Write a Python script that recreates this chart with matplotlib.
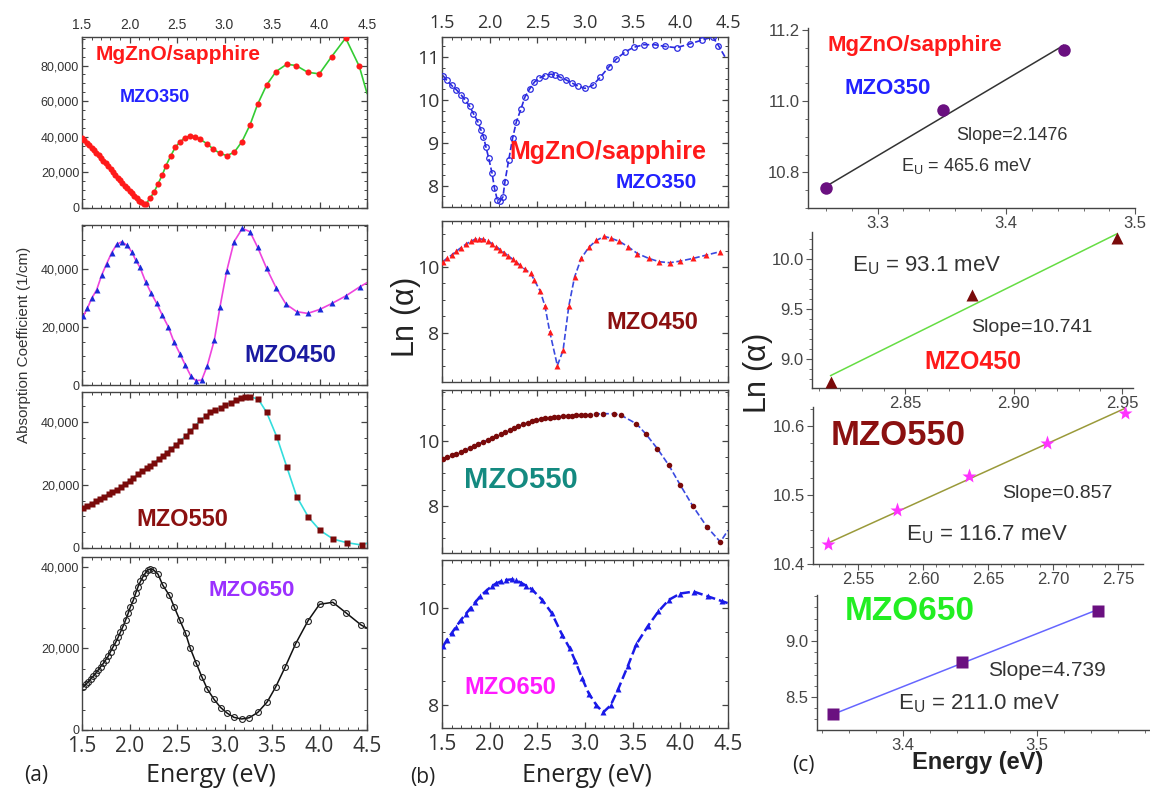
import numpy as np
import matplotlib
matplotlib.use("Agg")
import matplotlib.pyplot as plt
from matplotlib.ticker import FuncFormatter, MultipleLocator, AutoMinorLocator

plt.rcParams['font.family'] = ['Liberation Sans', 'DejaVu Sans']
plt.rcParams['mathtext.default'] = 'regular'

# ---------------- (a) absorption coefficient ----------------
E_350 = [1.50, 1.525, 1.55, 1.575, 1.60, 1.625, 1.65, 1.675, 1.70, 1.725, 1.75, 1.775,
         1.80, 1.825, 1.85, 1.875, 1.90, 1.925, 1.95, 1.975, 2.00, 2.025, 2.05, 2.075,
         2.10, 2.125, 2.15, 2.175, 2.216, 2.258, 2.30, 2.345, 2.384, 2.434, 2.482, 2.535,
         2.584, 2.637, 2.689, 2.742, 2.819, 2.882, 2.953, 3.023, 3.103, 3.184, 3.268,
         3.349, 3.444, 3.542, 3.655, 3.753, 3.876, 3.998, 4.128, 4.275, 4.419]
A_350 = [39300, 37900, 36500, 35100, 33700, 32300, 30900, 29500, 28100, 26600, 25000, 23400,
         21800, 20200, 18600, 17000, 15500, 14000, 12500, 11000, 9600, 8200, 6800, 5400,
         4200, 3200, 2400, 2300, 5600, 8800, 13600, 18500, 23800, 29200, 34100, 37300,
         39500, 40400, 40100, 38600, 36000, 33000, 30700, 29400, 31300, 37300, 46600,
         58300, 69100, 76600, 80700, 80000, 76200, 75300, 85000, 95400, 79500]
E_350_tail = [4.50]
A_350_tail = [64400]

E_450 = [1.514, 1.556, 1.602, 1.654, 1.707, 1.76, 1.812, 1.865, 1.918, 1.97, 2.023, 2.065,
         2.11, 2.17, 2.226, 2.286, 2.345, 2.408, 2.468, 2.532, 2.587, 2.644, 2.70, 2.76,
         2.819, 2.893, 2.953, 3.023, 3.10, 3.187, 3.268, 3.349, 3.444, 3.542, 3.647, 3.76,
         3.876, 4.005, 4.135, 4.275, 4.426]
A_450 = [23800, 26400, 29900, 32800, 37900, 41900, 45600, 48500, 49400, 48300, 46000, 43100,
         40600, 35600, 31800, 28200, 24100, 20100, 14900, 10700, 6900, 3200, 1500, 1700,
         6700, 15500, 27000, 39300, 49400, 54000, 52900, 47500, 40200, 33600, 27900, 25300,
         24700, 26100, 28200, 30700, 33900]
E_450_tail = [4.50]
A_450_tail = [35300]

E_550 = [1.51, 1.55, 1.60, 1.65, 1.69, 1.73, 1.78, 1.82, 1.865, 1.91, 1.95, 2.00, 2.04,
         2.09, 2.13, 2.18, 2.218, 2.26, 2.31, 2.35, 2.394, 2.44, 2.49, 2.535, 2.59, 2.64,
         2.69, 2.746, 2.80, 2.85, 2.905, 2.96, 3.01, 3.065, 3.12, 3.17, 3.22, 3.27, 3.356,
         3.444, 3.55, 3.655, 3.76, 3.883, 4.005, 4.146, 4.286, 4.444]
A_550 = [12800, 13400, 14100, 14900, 15500, 16200, 17200, 17700, 18300, 19400, 20300, 21300, 22300,
         23400, 24300, 25300, 26000, 27100, 28300, 29200, 30300, 31500, 32800, 34000, 35500, 37100,
         38700, 40500, 41800, 43000, 43800, 44500, 45300, 46100, 46900, 47500, 47900, 48000, 47200,
         43000, 35300, 25800, 16300, 9800, 5600, 2800, 1700, 950]
E_550_tail = [4.50]
A_550_tail = [1500]

E_650 = [1.513, 1.54, 1.565, 1.59, 1.618, 1.645, 1.67, 1.696, 1.723, 1.75, 1.776, 1.80, 1.828,
         1.855, 1.88, 1.905, 1.93, 1.96, 1.986, 2.01, 2.04, 2.065, 2.09, 2.115, 2.14, 2.165,
         2.19, 2.22, 2.25, 2.30, 2.35, 2.42, 2.47, 2.53, 2.59, 2.64, 2.70, 2.76, 2.82, 2.89,
         2.96, 3.03, 3.10, 3.18, 3.26, 3.35, 3.45, 3.54, 3.64, 3.75, 3.88, 4.00, 4.14, 4.28, 4.44]
A_650 = [10600, 11200, 11800, 12500, 13200, 13900, 14700, 15500, 16300, 17200, 18100, 19200, 20400,
         21500, 22700, 24000, 25300, 27000, 28600, 30200, 31800, 33500, 35100, 36400, 37500, 38400,
         39200, 39400, 39300, 38200, 35500, 33000, 30200, 26900, 23700, 20000, 16500, 13100, 10000,
         7500, 5500, 4100, 3100, 2700, 3000, 4300, 6900, 10600, 15500, 21200, 26800, 30800, 31300,
         28700, 25700]
E_650_tail = [4.50]
A_650_tail = [25000]

# ---------------- (b) ln(alpha) ----------------
E_b350 = [1.51, 1.55, 1.60, 1.65, 1.70, 1.746, 1.79, 1.83, 1.876, 1.91, 1.935, 1.96, 1.99, 2.025,
          2.05, 2.08, 2.11, 2.14, 2.16, 2.20, 2.24, 2.28, 2.33, 2.37, 2.42, 2.47, 2.52, 2.58,
          2.64, 2.69, 2.74, 2.80, 2.86, 2.93, 3.00, 3.08, 3.16, 3.25, 3.33, 3.42, 3.51, 3.62,
          3.73, 3.84, 3.96, 4.10, 4.23, 4.34, 4.40]
L_b350 = [10.57, 10.46, 10.34, 10.24, 10.12, 9.99, 9.85, 9.68, 9.49, 9.29, 9.14, 8.91, 8.64, 8.29,
          7.94, 7.67, 7.64, 7.74, 8.09, 8.60, 9.10, 9.49, 9.80, 10.07, 10.26, 10.42, 10.51, 10.57,
          10.60, 10.59, 10.53, 10.47, 10.40, 10.32, 10.27, 10.34, 10.53, 10.77, 10.96, 11.12, 11.23,
          11.29, 11.29, 11.25, 11.22, 11.31, 11.40, 11.47, 11.27]
E_b350_tail = [4.47]
L_b350_tail = [11.00]

E_b450 = [1.51, 1.55, 1.60, 1.65, 1.70, 1.75, 1.80, 1.845, 1.89, 1.935, 1.98, 2.025, 2.07, 2.11,
          2.15, 2.195, 2.24, 2.28, 2.32, 2.37, 2.43, 2.47, 2.53, 2.58, 2.63, 2.71, 2.77, 2.83,
          2.89, 2.96, 3.04, 3.12, 3.20, 3.27, 3.36, 3.45, 3.55, 3.67, 3.78, 3.89, 4.00, 4.13,
          4.27, 4.42]
L_b450 = [10.16, 10.26, 10.36, 10.48, 10.59, 10.69, 10.78, 10.84, 10.86, 10.84, 10.80, 10.71, 10.62, 10.53,
          10.44, 10.34, 10.24, 10.15, 10.05, 9.93, 9.81, 9.59, 9.27, 8.81, 8.03, 7.00, 7.46, 8.81,
          9.69, 10.26, 10.60, 10.81, 10.93, 10.88, 10.78, 10.62, 10.41, 10.26, 10.16, 10.13, 10.18,
          10.26, 10.36, 10.47]

E_b550 = [1.51, 1.55, 1.60, 1.65, 1.70, 1.74, 1.79, 1.84, 1.88, 1.93, 1.98, 2.02, 2.07, 2.12,
          2.16, 2.21, 2.26, 2.30, 2.35, 2.40, 2.44, 2.49, 2.54, 2.58, 2.63, 2.68, 2.72, 2.77,
          2.82, 2.86, 2.91, 2.96, 3.00, 3.05, 3.12, 3.19, 3.30, 3.38, 3.54, 3.64, 3.76, 3.88,
          4.00, 4.13, 4.28, 4.42]
L_b550 = [9.46, 9.50, 9.56, 9.61, 9.67, 9.73, 9.79, 9.85, 9.91, 9.97, 10.03, 10.08, 10.14, 10.21,
          10.27, 10.33, 10.39, 10.45, 10.51, 10.56, 10.60, 10.64, 10.67, 10.70, 10.72, 10.74, 10.75, 10.76,
          10.77, 10.78, 10.79, 10.80, 10.80, 10.81, 10.83, 10.84, 10.84, 10.79, 10.53, 10.21, 9.76, 9.25,
          8.64, 8.00, 7.35, 6.89]
E_b550_tail = [4.50]
L_b550_tail = [7.25]

E_b650 = [1.51, 1.55, 1.60, 1.65, 1.70, 1.75, 1.80, 1.85, 1.90, 1.96, 2.02, 2.07, 2.12, 2.175,
          2.23, 2.28, 2.33, 2.385, 2.44, 2.55, 2.65, 2.76, 2.84, 2.90, 2.97, 3.04, 3.12, 3.19,
          3.27, 3.35, 3.45, 3.54, 3.66, 3.77, 3.88, 4.00, 4.14, 4.29, 4.44]
L_b650 = [9.21, 9.34, 9.48, 9.62, 9.76, 9.88, 10.00, 10.12, 10.24, 10.35, 10.45, 10.51, 10.55, 10.58,
          10.59, 10.57, 10.52, 10.46, 10.39, 10.17, 9.90, 9.45, 9.17, 8.90, 8.55, 8.24, 8.00, 7.85,
          8.00, 8.34, 8.81, 9.26, 9.63, 9.93, 10.17, 10.30, 10.34, 10.24, 10.14]
E_b650_tail = [4.50]
L_b650_tail = [10.10]

# ---------------- (c) Urbach fits ----------------
Ec_350 = [3.260, 3.351, 3.4445]
Lc_350 = [10.755, 10.975, 11.144]
Ec_450 = [2.8156, 2.8807, 2.9477]
Lc_450 = [8.77, 9.64, 10.21]
Ec_550 = [2.527, 2.580, 2.635, 2.695, 2.755]
Lc_550 = [10.429, 10.478, 10.5275, 10.5754, 10.620]
Ec_650 = [3.348, 3.444, 3.5455]
Lc_650 = [8.348, 8.810, 9.270]
slopes = [2.1476, 10.741, 0.857, 4.739]
urbach_meV = [465.6, 93.1, 116.7, 211.0]

W, H = 1150, 794
fig = plt.figure(figsize=(W / 100, H / 100), dpi=100)
fig.patch.set_facecolor('white')


def px_axes(l, t, r, b):
    return fig.add_axes([l / W, 1 - b / H, (r - l) / W, (b - t) / H])


def ptxt(x, y, s, **kw):
    kw.setdefault('ha', 'center')
    kw.setdefault('va', 'center')
    return fig.text(x / W, 1 - y / H, s, **kw)


GRAY = '#333333'
OPEN = ['Open Sans', 'DejaVu Sans']
comma = FuncFormatter(lambda v, p: '0' if v == 0 else f'{int(v):,}')


def box_style(ax, top_labels=False, bottom_labels=False, ysize=9, xsize=15, topsize=10):
    for s in ax.spines.values():
        s.set_color('#444444')
        s.set_linewidth(1.0)
    ax.set_xlim(1.5, 4.5)
    ax.xaxis.set_major_locator(MultipleLocator(0.5))
    ax.xaxis.set_minor_locator(MultipleLocator(0.1))
    ax.yaxis.set_minor_locator(AutoMinorLocator(4))
    ax.tick_params(which='both', direction='in', top=True, right=True, colors='#444444')
    ax.tick_params(which='major', length=4, width=0.9)
    ax.tick_params(which='minor', length=2, width=0.7)
    ax.tick_params(axis='y', labelsize=ysize, labelcolor=GRAY, pad=2)
    ax.tick_params(axis='x', labelbottom=bottom_labels, labeltop=top_labels,
                   labelcolor=GRAY)
    if bottom_labels:
        ax.tick_params(axis='x', labelsize=xsize, pad=4)
        for lab in ax.get_xticklabels():
            lab.set_family(OPEN)
    if top_labels:
        for lab in ax.get_xticklabels():
            lab.set_fontsize(topsize)


# ----- column (a) -----
a1 = px_axes(82, 37, 367, 208)
a1.plot(E_350[27:] + E_350_tail, A_350[27:] + A_350_tail, color='#33cc33', lw=1.2, zorder=2)
a1.plot(E_350, A_350, 'o', color='#ff1a1a', ms=4.4, mec='none', zorder=3)
a1.set_ylim(0, 96000)
a1.yaxis.set_major_locator(MultipleLocator(20000))
a1.yaxis.set_major_formatter(comma)
box_style(a1, top_labels=True)
ptxt(178, 55, 'MgZnO/sapphire', fontsize=15, fontweight='bold', color='#ff1a1a')
ptxt(155, 97, 'MZO350', fontsize=13, fontweight='bold', color='#2222ff')

a2 = px_axes(82, 225, 367, 385)
a2.plot(E_450 + E_450_tail, A_450 + A_450_tail, color='#ee44dd', lw=1.2, zorder=2)
a2.plot(E_450, A_450, '^', color='#1a2ad8', ms=4.5, mec='none', zorder=3)
a2.set_ylim(0, 55200)
a2.yaxis.set_major_locator(MultipleLocator(20000))
a2.yaxis.set_major_formatter(comma)
box_style(a2)
ptxt(290, 355, 'MZO450', fontsize=17, fontweight='bold', color='#1a1aa0')

a3 = px_axes(82, 392, 367, 548)
a3.plot(E_550 + E_550_tail, A_550 + A_550_tail, color='#33dddd', lw=1.2, zorder=2)
a3.plot(E_550, A_550, 's', color='#7a0a0a', ms=3.8, mec='none', zorder=3)
a3.set_ylim(0, 49500)
a3.yaxis.set_major_locator(MultipleLocator(20000))
a3.yaxis.set_major_formatter(comma)
box_style(a3)
ptxt(182, 520, 'MZO550', fontsize=17, fontweight='bold', color='#8b1010')

a4 = px_axes(82, 557, 367, 730)
a4.plot(E_650 + E_650_tail, A_650 + A_650_tail, color='#111111', lw=1.1, zorder=2)
a4.plot(E_650, A_650, 'o', mfc='none', mec='#222222', mew=0.8, ms=4.2, zorder=3)
a4.set_ylim(0, 42400)
a4.yaxis.set_major_locator(MultipleLocator(20000))
a4.yaxis.set_major_formatter(comma)
box_style(a4, bottom_labels=True)
ptxt(252, 590, 'MZO650', fontsize=16, fontweight='bold', color='#9b30ff')

ptxt(24, 345, 'Absorption Coefficient (1/cm)', rotation=90, fontsize=11, color=GRAY)
ptxt(36, 776, '(a)', fontsize=15, color='#222222', family=OPEN)
ptxt(211, 776, 'Energy (eV)', fontsize=18, color='#222222', family=OPEN)


# ----- column (b) -----
def ln_style(ax, ylim, yticks, yminor, top_labels=False, bottom_labels=False):
    ax.set_ylim(*ylim)
    box_style(ax, top_labels=top_labels, bottom_labels=bottom_labels, ysize=14, topsize=13)
    ax.set_yticks(yticks)
    ax.yaxis.set_minor_locator(MultipleLocator(yminor))
    for lab in ax.get_yticklabels():
        lab.set_family(OPEN)
    if top_labels:
        for lab in ax.get_xticklabels():
            lab.set_family(OPEN)


b1 = px_axes(442, 37, 728, 207)
b1.plot(E_b350 + E_b350_tail, L_b350 + L_b350_tail, '--', color='#2a2ae0', lw=1.2, zorder=2)
b1.plot(E_b350, L_b350, 'o', mfc='none', mec='#2a2ae0', mew=0.9, ms=4, zorder=3)
ln_style(b1, (7.5, 11.47), [8, 9, 10, 11], 0.25, top_labels=True)
ptxt(608, 152, 'MgZnO/sapphire', fontsize=18, fontweight='bold', color='#ff1a1a')
ptxt(656, 183, 'MZO350', fontsize=15, fontweight='bold', color='#2222ff')

b2 = px_axes(442, 221, 728, 382)
b2.plot(E_b450, L_b450, '--', color='#3a4ae0', lw=1.2, zorder=2)
b2.plot(E_b450, L_b450, '^', color='#ff1a1a', ms=4.5, mec='none', zorder=3)
ln_style(b2, (6.5, 11.4), [8, 10], 0.5)
ptxt(652, 322, 'MZO450', fontsize=17, fontweight='bold', color='#8b1010')

b3 = px_axes(442, 390, 728, 553)
b3.plot(E_b550 + E_b550_tail, L_b550 + L_b550_tail, '--', color='#3a4ae0', lw=1.2, zorder=2)
b3.plot(E_b550, L_b550, 'o', color='#7a0a0a', ms=4, mec='none', zorder=3)
ln_style(b3, (6.55, 11.57), [8, 10], 0.5)
ptxt(521, 480, 'MZO550', fontsize=21, fontweight='bold', color='#148a80')

b4 = px_axes(442, 560, 728, 728)
b4.plot(E_b650 + E_b650_tail, L_b650 + L_b650_tail, '--', color='#1a1ae8', lw=1.8, zorder=2)
b4.plot(E_b650, L_b650, '^', color='#1a1ae8', ms=4.5, mec='none', zorder=3)
ln_style(b4, (7.53, 10.99), [8, 10], 0.5, bottom_labels=True)
ptxt(510, 688, 'MZO650', fontsize=17, fontweight='bold', color='#ff1aff')

ptxt(406, 318, r'Ln ($\alpha$)', rotation=90, fontsize=22, color='#222222')
ptxt(423, 778, '(b)', fontsize=15, color='#222222', family=OPEN)
ptxt(587, 776, 'Energy (eV)', fontsize=18, color='#222222', family=OPEN)


# ----- column (c) -----
def fit_style(ax, xlim, ylim, xmaj, ymaj, xminor, yminor, xfmt, yfmt='{:.1f}'):
    ax.set_xlim(*xlim)
    ax.set_ylim(*ylim)
    for side in ('top', 'right'):
        ax.spines[side].set_visible(False)
    for side in ('left', 'bottom'):
        ax.spines[side].set_color('#444444')
        ax.spines[side].set_linewidth(1.0)
    ax.xaxis.set_major_locator(MultipleLocator(xmaj))
    ax.yaxis.set_major_locator(MultipleLocator(ymaj))
    ax.xaxis.set_minor_locator(MultipleLocator(xminor))
    ax.yaxis.set_minor_locator(MultipleLocator(yminor))
    ax.xaxis.set_major_formatter(FuncFormatter(lambda v, p: xfmt.format(v)))
    ax.yaxis.set_major_formatter(FuncFormatter(lambda v, p: yfmt.format(v)))
    ax.tick_params(which='both', direction='out', colors='#555555', labelcolor='#444444',
                   labelsize=12)
    ax.tick_params(which='major', length=4, pad=2)
    ax.tick_params(which='minor', length=2)
    ax.patch.set_alpha(0)


def fit_line(ax, xs, ys, slope, color):
    x = np.array(xs)
    y = np.array(ys)
    xm, ym = x.mean(), y.mean()
    xx = np.array([x.min(), x.max()])
    ax.plot(xx, ym + slope * (xx - xm), color=color, lw=1.1, zorder=2)


c1 = px_axes(808, 28, 1135, 208)
fit_line(c1, Ec_350, Lc_350, slopes[0], '#333333')
c1.plot(Ec_350, Lc_350, 'o', color='#6a1080', ms=9, mec='none', zorder=3)
fit_style(c1, (3.246, 3.5), (10.70, 11.206), 0.1, 0.2, 0.02, 0.05, '{:.1f}')
ptxt(915, 46, 'MgZnO/sapphire', fontsize=16, fontweight='bold', color='#ff1a1a')
ptxt(888, 89, 'MZO350', fontsize=16, fontweight='bold', color='#2222ff')
ptxt(1012, 135, f'Slope={slopes[0]}', fontsize=13, color=GRAY)
ptxt(967, 166, f'E$_U$ = {urbach_meV[0]} meV', fontsize=13, color=GRAY)

c2 = px_axes(812, 232, 1133, 388)
fit_line(c2, Ec_450, Lc_450, slopes[1], '#66dd44')
c2.plot(Ec_450, Lc_450, '^', color='#7a0a0a', ms=9, mec='none', zorder=3)
fit_style(c2, (2.807, 2.955), (8.71, 10.27), 0.05, 0.5, 0.01, 0.1, '{:.2f}')
ptxt(927, 266, f'E$_U$ = {urbach_meV[1]} meV', fontsize=16, color=GRAY)
ptxt(1032, 327, f'Slope={slopes[1]}', fontsize=14, color=GRAY)
ptxt(973, 362, 'MZO450', fontsize=18, fontweight='bold', color='#ff1a1a')

c3 = px_axes(813, 407, 1143, 564)
fit_line(c3, Ec_550, Lc_550, slopes[2], '#9a9a3a')
c3.plot(Ec_550, Lc_550, '*', color='#ff33ff', ms=11, mec='none', zorder=3)
fit_style(c3, (2.5154, 2.769), (10.4, 10.628), 0.05, 0.1, 0.01, 0.025, '{:.2f}')
ptxt(898, 435, 'MZO550', fontsize=25, fontweight='bold', color='#8b1010')
ptxt(1057, 493, f'Slope={slopes[2]}', fontsize=14, color=GRAY)
ptxt(987, 535, f'E$_U$ = {urbach_meV[2]} meV', fontsize=16, color=GRAY)

c4 = px_axes(817, 595, 1150, 730)
fit_line(c4, Ec_650, Lc_650, slopes[3], '#6666ff')
c4.plot(Ec_650, Lc_650, 's', color='#6a1080', ms=8, mec='none', zorder=3)
fit_style(c4, (3.336, 3.584), (8.205, 9.41), 0.1, 0.5, 0.02, 0.1, '{:.1f}')
ptxt(910, 612, 'MZO650', fontsize=24, fontweight='bold', color='#22ee22')
ptxt(1047, 670, f'Slope={slopes[3]}', fontsize=15, color=GRAY)
ptxt(979, 704, f'E$_U$ = {urbach_meV[3]} meV', fontsize=16, color=GRAY)

ptxt(758, 374, r'Ln ($\alpha$)', rotation=90, fontsize=22, color='#222222')
ptxt(803, 766, '(c)', fontsize=15, color='#222222', family=OPEN)
ptxt(978, 763, 'Energy (eV)', fontsize=17, fontweight='bold', color='#222222')

fig.savefig('out.png', dpi=100, facecolor='white')
